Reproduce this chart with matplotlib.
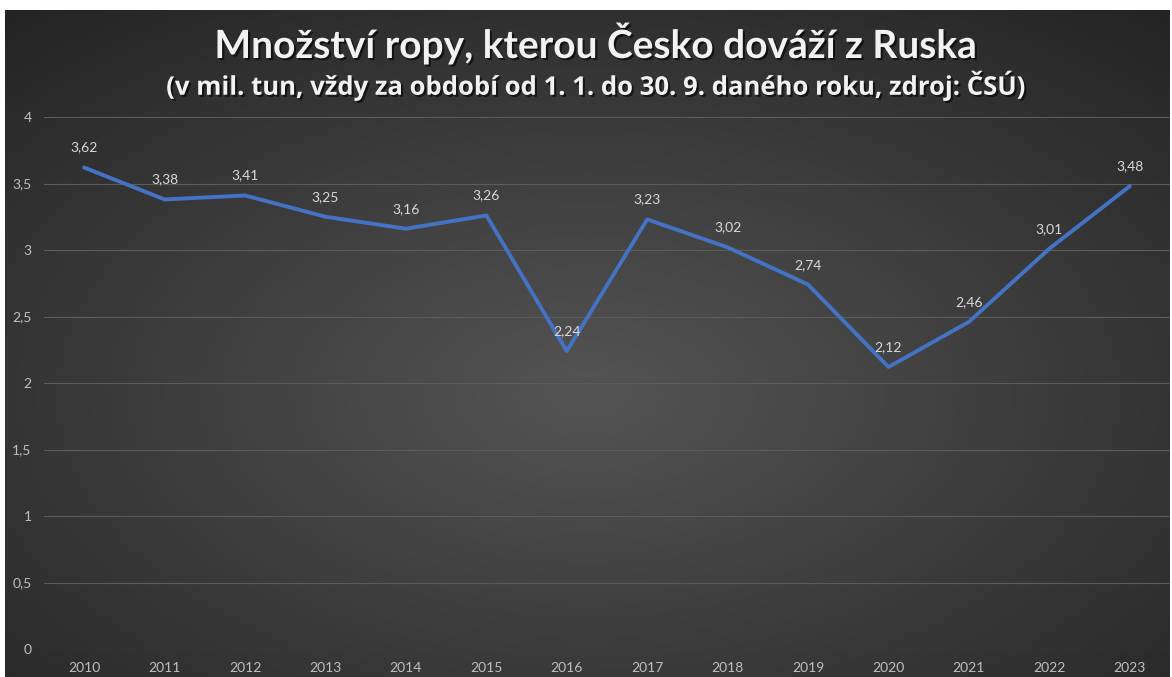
import numpy as np
import matplotlib
matplotlib.use("Agg")
import matplotlib.pyplot as plt
import matplotlib.patheffects as pe

years = ["2010", "2011", "2012", "2013", "2014", "2015", "2016",
         "2017", "2018", "2019", "2020", "2021", "2022", "2023"]
values = [3.62, 3.38, 3.41, 3.25, 3.16, 3.26, 2.24,
          3.23, 3.02, 2.74, 2.12, 2.46, 3.01, 3.48]
yticks = [0, 0.5, 1, 1.5, 2, 2.5, 3, 3.5, 4]

title = "Množství ropy, kterou Česko dováží z Ruska"
subtitle = "(v mil. tun, vždy za období od 1. 1. do 30. 9. daného roku, zdroj: ČSÚ)"

def fmt(v):
    s = f"{v:g}"
    return s.replace(".", ",")

plt.rcParams['font.family'] = ['Lato', 'DejaVu Sans']

W, H = 1172, 677
fig = plt.figure(figsize=(W / 100, H / 100), dpi=100, facecolor="white")

# radial gradient background
bg = fig.add_axes([5 / W, 0, 1 - 7 / W, 1 - 10 / H])
bg.set_axis_off()
yy, xx = np.mgrid[0:400, 0:700]
cx, cy = 350, 230
r = np.sqrt(((xx - cx) / 700) ** 2 + ((yy - cy) / 400) ** 2)
r = r / r.max()
shade = 0.33 - 0.19 * r
img = np.dstack([shade, shade, shade])
bg.imshow(img, aspect="auto", extent=[0, 1, 0, 1], interpolation="bilinear")
bg.set_xlim(0, 1)
bg.set_ylim(0, 1)

# main axes
left = 44 / W
right = 1170 / W
bottom = (H - 649) / H
top = (H - 117) / H
ax = fig.add_axes([left, bottom, right - left, top - bottom])
ax.patch.set_alpha(0)
x = np.arange(len(years))
ax.set_xlim(-0.5, len(years) - 0.5)
ax.set_ylim(0, 4)
ax.set_yticks(yticks)
ax.set_yticklabels([fmt(t) for t in yticks])
ax.set_xticks(x)
ax.set_xticklabels(years)
for s in ax.spines.values():
    s.set_visible(False)
ax.tick_params(axis="both", length=0, colors="#bfbfbf", labelsize=10)
ax.tick_params(axis="y", pad=9)
ax.tick_params(axis="x", pad=9)
ax.grid(axis="y", color="#5c5c5c", linewidth=0.8)
ax.set_axisbelow(True)

ax.plot(x, values, color="#4472C4", linewidth=2.8, solid_joinstyle="round",
        solid_capstyle="round", zorder=3)
for xi, v in zip(x, values):
    ax.annotate(fmt(v), (xi, v), xytext=(0, 10), textcoords="offset points",
                ha="center", va="bottom", color="#d9d9d9", fontsize=10)

shadow = [pe.withSimplePatchShadow(offset=(1.5, -1.5), shadow_rgbFace="black", alpha=0.6)]
fig.text(595 / W, (H - 43) / H, title, ha="center", va="center", color="#f2f2f2",
         fontsize=28, fontweight="bold", path_effects=shadow)
fig.text(597 / W, (H - 85) / H, subtitle, ha="center", va="center", color="#f2f2f2",
         fontsize=18.5, fontweight="bold", family=["Open Sans", "DejaVu Sans"],
         path_effects=shadow)

fig.savefig("out.png", dpi=100, facecolor="white")
